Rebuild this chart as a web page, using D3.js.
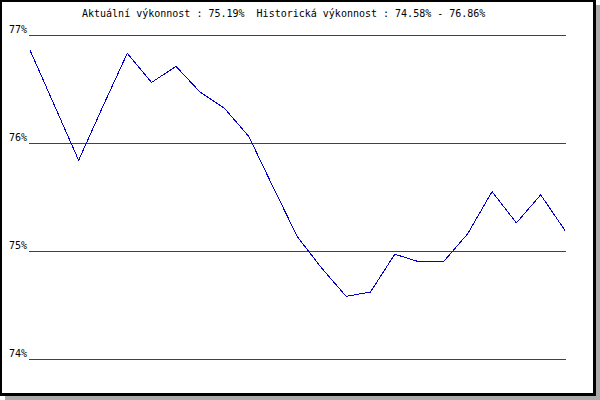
<!DOCTYPE html>
<html>
<head>
<meta charset="utf-8">
<script src="https://cdn.jsdelivr.net/npm/d3@7/dist/d3.min.js"></script>
<style>
  html, body { margin: 0; padding: 0; background: #fff; }
  svg { display: block; }
  text { font-family: "DejaVu Sans Mono", monospace; font-size: 10px; fill: #000; white-space: pre; }
</style>
</head>
<body>
<script>
const titleText = "Aktuální výkonnost : 75.19%  Historická výkonnost : 74.58% - 76.86%";
const yTicks = [74, 75, 76, 77];
const yTickLabels = ["74%", "75%", "76%", "77%"];
const performance = [76.86, 76.35, 75.84, 76.34, 76.83, 76.56, 76.71, 76.47, 76.32, 76.06,
  75.59, 75.13, 74.84, 74.58, 74.62, 74.97, 74.90, 74.90, 75.16, 75.55, 75.26, 75.52, 75.19];

const W = 600, H = 400;
const svg = d3.select("body").append("svg").attr("width", W).attr("height", H);

// shadow + frame
svg.append("rect").attr("x", 5).attr("y", 5).attr("width", 595).attr("height", 395).attr("fill", "#aaaaaa");
svg.append("rect").attr("x", 0).attr("y", 0).attr("width", 596).attr("height", 396).attr("fill", "#000");
svg.append("rect").attr("x", 2).attr("y", 2).attr("width", 591).attr("height", 391).attr("fill", "#fff");

const x = d3.scaleLinear().domain([0, performance.length - 1]).range([30, 565]);
const y = d3.scaleLinear().domain([74, 77]).range([359, 35]);

// grid lines
svg.append("g").selectAll("line").data(yTicks).join("line")
  .attr("x1", 29).attr("x2", 566)
  .attr("y1", d => Math.round(y(d)) + 0.5).attr("y2", d => Math.round(y(d)) + 0.5)
  .attr("stroke", "#dd0000").attr("stroke-width", 1).attr("shape-rendering", "crispEdges");

// y labels
svg.append("g").selectAll("text").data(yTicks).join("text")
  .attr("x", 27).attr("y", d => Math.round(y(d)) - 2)
  .attr("text-anchor", "end")
  .text((d, i) => yTickLabels[i]);

// line
const line = d3.line().x((d, i) => x(i)).y(d => y(d));
svg.append("path").datum(performance)
  .attr("d", line)
  .attr("fill", "none").attr("stroke", "#0000cc").attr("stroke-width", 1)
  .attr("shape-rendering", "crispEdges");

// title
svg.append("text").attr("x", 82).attr("y", 17).attr("xml:space", "preserve").text(titleText);
</script>
</body>
</html>
